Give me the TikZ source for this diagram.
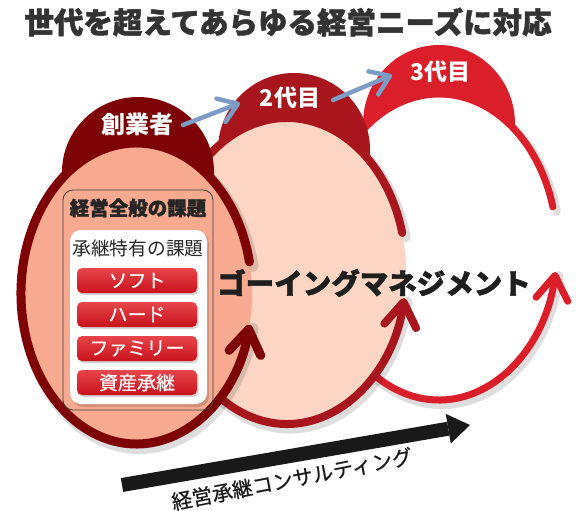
\documentclass[tikz,border=0pt]{standalone}
\usepackage{fontspec}
\setmainfont{Noto Sans CJK JP}
\newfontfamily\heavyfont{Noto Sans CJK JP}[BoldFeatures={FakeBold=1.6}]
\newfontfamily\medfont{Noto Sans CJK JP}[FakeBold=0.5]
\usetikzlibrary{arrows.meta,shadows}
\definecolor{rA}{HTML}{7D0307}
\definecolor{rB}{HTML}{A8151D}
\definecolor{rC}{HTML}{DA1F2A}
\definecolor{fillA}{HTML}{F7AA8F}
\definecolor{fillB}{HTML}{FCD5C4}
\definecolor{blu}{HTML}{7C9CC5}
\definecolor{ttl}{HTML}{333333}
\definecolor{btnTop}{HTML}{E8454C}
\definecolor{btnBot}{HTML}{C8121B}
\begin{document}
\begin{tikzpicture}[x=1pt,y=-1pt,
  loophead/.style={-{Straight Barb[length=24pt,width=32pt,round]}, line cap=round},
  shade/.style={black, opacity=0.13, line cap=round},
  btn/.style={rounded corners=5pt, minimum width=120pt, minimum height=25pt,
     top color=btnTop, bottom color=btnBot, text=white, inner sep=0pt,
     font=\medfont\fontsize{19}{20}\selectfont,
     drop shadow={shadow xshift=1.5pt, shadow yshift=-2pt, opacity=0.35}},
  capfont/.style={text=white, font=\bfseries\fontsize{23}{24}\selectfont},
  bluarrow/.style={blu, line width=4.5, line cap=round, -{Straight Barb[length=18pt,width=25pt,round]}}
]
\useasboundingbox (0,0) rectangle (576,511);
\fill[white] (0,0) rectangle (576,511);

% ---------- loop 3 ----------
\draw[shade, line width=10, shift={(3,4)}] ({439+118*cos(-15.2)},{247+153*sin(-15.2)})
   arc[start angle=-15.2, end angle=-350.6, x radius=118, y radius=153];
\fill[rC] (439,124) ellipse[x radius=76, y radius=79];
\fill[white] (439,247) ellipse[x radius=118, y radius=153];
\draw[rC, line width=7, loophead] ({439+118*cos(-15.2)},{247+153*sin(-15.2)})
   arc[start angle=-15.2, end angle=-350.6, x radius=118, y radius=153];

% ---------- loop 2 ----------
\draw[shade, line width=11, shift={(3,4)}] ({287+119*cos(-14.4)},{271+153*sin(-14.4)})
   arc[start angle=-14.4, end angle=-349.8, x radius=119, y radius=153];
\fill[rB] (294,150) ellipse[x radius=76, y radius=77];
\fill[fillB] (287,271) ellipse[x radius=119, y radius=153];
\draw[rB, line width=8, loophead] ({287+119*cos(-14.4)},{271+153*sin(-14.4)})
   arc[start angle=-14.4, end angle=-349.8, x radius=119, y radius=153];

% ---------- loop 1 ----------
\draw[shade, line width=12, shift={(3,4)}] ({136.5+115.5*cos(-12.1)},{293.5+150.5*sin(-12.1)})
   arc[start angle=-12.1, end angle=-348, x radius=115.5, y radius=150.5];
\fill[rA] (138,172) ellipse[x radius=76, y radius=75];
\fill[fillA] (136.5,293.5) ellipse[x radius=115.5, y radius=150.5];
\draw[rA, line width=9, loophead] ({136.5+115.5*cos(-12.1)},{293.5+150.5*sin(-12.1)})
   arc[start angle=-12.1, end angle=-348, x radius=115.5, y radius=150.5];

% ---------- issue box ----------
\draw[draw=black!75, line width=0.8, rounded corners=10] (63,190) rectangle (213,410);
\node[font=\heavyfont\bfseries\fontsize{19.5}{20}\selectfont, text=black!85] (gen) at (138,208) {経営全般の課題};
\fill[black, opacity=0.15, rounded corners=11] (72,232) rectangle (209,407);
\fill[white, rounded corners=11] (70,230) rectangle (207,404);
\node[font=\fontsize{18.7}{19}\selectfont, text=black!85] (spec) at (138,248) {承継特有の課題};
\node[btn] (b1) at (137,280.5) {ソフト};
\node[btn] (b2) at (137,314.5) {ハード};
\node[btn] (b3) at (137,348.5) {ファミリー};
\node[btn] (b4) at (137,382.5) {資産承継};

% ---------- going management ----------
\node[font=\heavyfont\bfseries\fontsize{28.5}{29}\selectfont, text=black!88] (gm) at (374,283) {ゴーイングマネジメント};

% ---------- generation labels ----------
\node[capfont, font=\bfseries\fontsize{24}{25}\selectfont] (g1) at (137,124) {創業者};
\node[capfont] (g2) at (290,98) {2代目};
\node[capfont] (g3) at (440,72) {3代目};
\draw[bluarrow] (183,125) -- (240,103);
\draw[bluarrow] (333,100) -- (392,75);

% ---------- consulting arrow ----------
\coordinate (ct) at (122,485);
\coordinate (cb) at (448.3,428.7);
\draw[black!90, line width=14] (ct) -- (cb);
\fill[black!90] (470,425) -- (450.8,443.5) -- (445.8,413.9) -- cycle;
\node[rotate=11, font=\medfont\fontsize{20.5}{21}\selectfont, text=black!90, inner sep=1pt] (cons) at (292,479) {経営承継コンサルティング};

% ---------- title ----------
\node[font=\heavyfont\bfseries\fontsize{29.5}{30}\selectfont, text=ttl] (title) at (288,22) {世代を超えてあらゆる経営ニーズに対応};
\end{tikzpicture}
\end{document}
